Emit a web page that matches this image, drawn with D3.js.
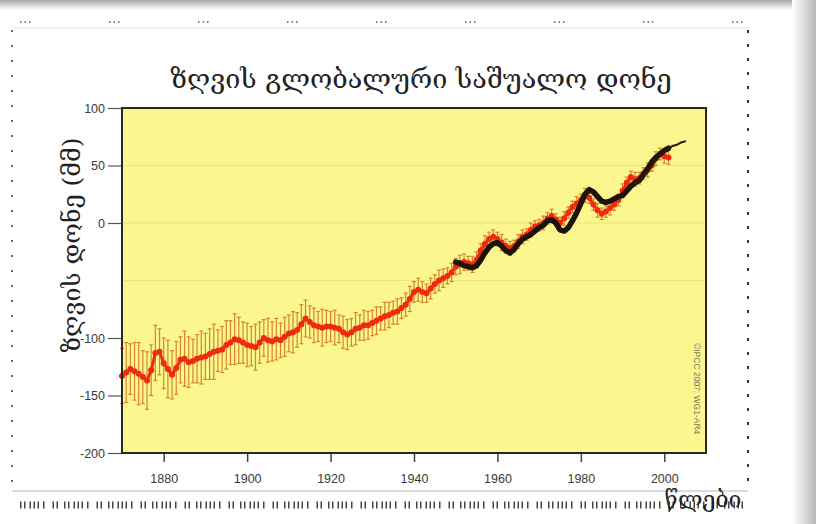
<!DOCTYPE html>
<html>
<head>
<meta charset="utf-8">
<script src="https://cdn.jsdelivr.net/npm/d3@7"></script>
<style>
  html, body { margin: 0; padding: 0; background: #fff; }
  #chart-container { width: 816px; height: 524px; }
</style>
</head>
<body>
<div id="chart-container"></div>
<script>
// Global mean sea level, mm
const years = d3.range(1870, 2002);
const seaLevel = [
  -133, -130, -127, -129, -131, -134, -137, -128, -113, -112,
  -122, -127, -132, -126, -119, -118, -121, -120, -118, -117,
  -116, -114, -112, -111, -110, -106, -104, -101, -102, -104,
  -106, -107, -108, -104, -100, -102, -103, -101, -102, -99,
  -96, -95, -93, -88, -83, -86, -89, -90, -91, -90,
  -90, -91, -92, -95, -97, -95, -92, -91, -89, -89,
  -87, -85, -83, -81, -80, -78, -77, -74, -71, -66,
  -60, -58, -60, -61, -57, -53, -50, -48, -46, -43,
  -38, -36, -34, -35, -36, -32, -24, -18, -14, -12,
  -14, -17, -20, -22, -20, -16, -12, -10, -6, -3,
  -2, 0, 4, 6, 3, 0, 4, 9, 14, 17,
  20, 24, 22, 16, 11, 8, 10, 13, 16, 20,
  28, 35, 40, 38, 39, 43, 46, 50, 56, 60,
  58, 57
];
const seaLevelError = [
  24, 26, 22, 25, 27, 23, 25, 22, 24, 20,
  22, 25, 21, 23, 20, 24, 22, 19, 21, 23,
  20, 22, 24, 18, 20, 21, 19, 22, 20, 18,
  19, 17, 20, 18, 16, 19, 17, 18, 15, 17,
  16, 18, 15, 17, 16, 14, 15, 13, 16, 14,
  13, 15, 12, 14, 13, 12, 14, 11, 13, 12,
  11, 12, 10, 12, 11, 10, 11, 9, 10, 11,
  9, 10, 9, 8, 9, 8, 9, 8, 7, 8,
  7, 8, 7, 6, 7, 7, 6, 7, 6, 6,
  6, 7, 6, 6, 5, 6, 6, 5, 6, 5,
  5, 6, 5, 6, 5, 5, 6, 5, 5, 6,
  5, 6, 5, 5, 6, 5, 5, 6, 5, 5,
  6, 5, 5, 6, 5, 5, 6, 5, 6, 5,
  6, 6
];

// Tide gauge record since 1950
const gaugeYears = d3.range(1950, 2002);
const gaugeLevel = [
  -34, -35, -37, -38, -39, -37, -32, -26, -21, -18,
  -17, -20, -24, -26, -23, -18, -14, -12, -10, -7,
  -4, -2, 2, 3, 0, -6, -7, -4, 2, 9,
  17, 25, 29, 27, 23, 19, 18, 19, 21, 23,
  24, 28, 32, 35, 37, 42, 47, 53, 57, 60,
  63, 65
];

// Satellite altimetry
const satYears = d3.range(1993, 2006);
const satLevel = [34, 37, 41, 45, 50, 55, 59, 62, 65, 67, 68, 70, 71];

const xTicks = [1880, 1900, 1920, 1940, 1960, 1980, 2000];
const yTicks = [100, 50, 0, -100, -150, -200];
const gridLines = [50, 0, -50];

const titleText = "ზღვის გლობალური საშუალო დონე";
const yLabelText = "ზღვის დონე (მმ)";
const xLabelText = "წლები";
const creditText = "©IPCC 2007: WG1-AR4";

function renderChart() {
    const container = document.getElementById("chart-container");
    const width = 816, height = 524;
    const plot = {left: 122, right: 706, top: 108, bottom: 453};
    const georgianFont = "'DejaVu Serif', 'DejaVu Sans', serif";
    const numFont = "'Liberation Sans', Arial, sans-serif";

    const x = d3.scaleLinear([1870, 2010], [plot.left, plot.right]);
    const y = d3.scaleLinear([-200, 100], [plot.bottom, plot.top]);

    const svg = d3.create("svg")
        .attr("width", width)
        .attr("height", height)
        .attr("viewBox", [0, 0, width, height]);

    // Page shadow gradients
    const defs = svg.append("defs");
    const topGrad = defs.append("linearGradient").attr("id", "topShade")
        .attr("x1", 0).attr("y1", 0).attr("x2", 0).attr("y2", 1);
    topGrad.append("stop").attr("offset", "0%").attr("stop-color", "#a8a8a8");
    topGrad.append("stop").attr("offset", "100%").attr("stop-color", "#ffffff");
    const rightGrad = defs.append("linearGradient").attr("id", "rightShade")
        .attr("x1", 0).attr("y1", 0).attr("x2", 1).attr("y2", 0);
    rightGrad.append("stop").attr("offset", "0%").attr("stop-color", "#ffffff");
    rightGrad.append("stop").attr("offset", "100%").attr("stop-color", "#b8b8b8");

    svg.append("rect").attr("width", width).attr("height", height).attr("fill", "#fff");
    svg.append("rect").attr("width", width).attr("height", 10).attr("fill", "url(#topShade)");
    svg.append("rect").attr("x", 792).attr("width", 24).attr("height", height).attr("fill", "url(#rightShade)");

    // Dotted frame of the scan
    const frame = svg.append("g").attr("fill", "none");
    frame.append("line").attr("x1", 20).attr("x2", 745).attr("y1", 22).attr("y2", 22)
        .attr("stroke", "#555").attr("stroke-width", 1.6)
        .attr("stroke-dasharray", "1.5 3 1.5 3 1.5 78.5");
    frame.append("line").attr("x1", 14).attr("x2", 748).attr("y1", 28).attr("y2", 28)
        .attr("stroke", "#e2e2e2").attr("stroke-width", 1);
    frame.append("line").attr("x1", 12).attr("x2", 12).attr("y1", 30).attr("y2", 490)
        .attr("stroke", "#444").attr("stroke-width", 1.6).attr("stroke-dasharray", "2 13");
    frame.append("line").attr("x1", 748).attr("x2", 748).attr("y1", 30).attr("y2", 490)
        .attr("stroke", "#333").attr("stroke-width", 2).attr("stroke-dasharray", "3 11");
    frame.append("line").attr("x1", 12).attr("x2", 748).attr("y1", 491).attr("y2", 491)
        .attr("stroke", "#cfcfcf").attr("stroke-width", 1.5);
    frame.append("line").attr("x1", 20).attr("x2", 745).attr("y1", 505).attr("y2", 505)
        .attr("stroke", "#444").attr("stroke-width", 7)
        .attr("stroke-dasharray", "1.5 2.5 1.5 4 1.5 2.5 1.5 2.5 1.5 4 1.5 8 1.5 2.5 1.5 6");

    // Plot background
    svg.append("rect")
        .attr("x", plot.left).attr("y", plot.top)
        .attr("width", plot.right - plot.left).attr("height", plot.bottom - plot.top)
        .attr("fill", "#fbf68e");

    // Faint grid lines
    svg.append("g")
        .selectAll("line")
        .data(gridLines)
        .join("line")
        .attr("x1", plot.left).attr("x2", plot.right)
        .attr("y1", d => y(d)).attr("y2", d => y(d))
        .attr("stroke", "#ebe37e").attr("stroke-width", 1.2);

    // Title
    svg.append("text")
        .attr("x", 421).attr("y", 88)
        .attr("text-anchor", "middle")
        .attr("font-family", georgianFont)
        .attr("font-size", 27)
        .attr("fill", "#222")
        .text(titleText);

    // Y axis
    const yAxis = svg.append("g")
        .attr("transform", `translate(${plot.left},0)`)
        .call(d3.axisLeft(y).tickValues(yTicks).tickSize(14).tickPadding(3).tickFormat(d => String(d)));
    yAxis.select(".domain").remove();
    yAxis.selectAll(".tick line").attr("stroke", "#555").attr("stroke-width", 1.2);
    yAxis.selectAll(".tick text")
        .attr("font-family", numFont).attr("font-size", 12.5)
        .attr("fill", "#3a3a3a");

    // X axis
    const xAxis = svg.append("g")
        .attr("transform", `translate(0,${plot.bottom})`)
        .call(d3.axisBottom(x).tickValues(xTicks).tickSize(9).tickPadding(12).tickFormat(d => String(d)));
    xAxis.select(".domain").remove();
    xAxis.selectAll(".tick line").attr("stroke", "#444").attr("stroke-width", 1.5);
    xAxis.selectAll(".tick text")
        .attr("font-family", numFont).attr("font-size", 12.5)
        .attr("fill", "#3a3a3a");

    // Error bars of the reconstruction
    const bars = svg.append("g")
        .attr("stroke", "#d9842c")
        .attr("stroke-width", 1.2)
        .attr("fill", "none")
        .selectAll("g")
        .data(years.map((yr, i) => ({yr, v: seaLevel[i], e: seaLevelError[i]})))
        .join("g");
    bars.append("line")
        .attr("x1", d => x(d.yr)).attr("x2", d => x(d.yr))
        .attr("y1", d => y(d.v - d.e)).attr("y2", d => y(d.v + d.e));
    bars.append("line")
        .attr("x1", d => x(d.yr) - 2).attr("x2", d => x(d.yr) + 2)
        .attr("y1", d => y(d.v + d.e)).attr("y2", d => y(d.v + d.e));
    bars.append("line")
        .attr("x1", d => x(d.yr) - 2).attr("x2", d => x(d.yr) + 2)
        .attr("y1", d => y(d.v - d.e)).attr("y2", d => y(d.v - d.e));

    // Reconstruction line and points
    const redLine = d3.line().x((d, i) => x(years[i])).y(d => y(d));
    svg.append("path")
        .datum(seaLevel)
        .attr("fill", "none")
        .attr("stroke", "#ec2a12")
        .attr("stroke-width", 3)
        .attr("d", redLine);
    svg.append("g")
        .selectAll("circle")
        .data(seaLevel)
        .join("circle")
        .attr("cx", (d, i) => x(years[i]))
        .attr("cy", d => y(d))
        .attr("r", 3)
        .attr("fill", "#ee2b10");

    // Tide gauge line
    svg.append("path")
        .datum(gaugeLevel)
        .attr("fill", "none")
        .attr("stroke", "#1c130c")
        .attr("stroke-width", 5.5)
        .attr("stroke-linejoin", "round")
        .attr("stroke-linecap", "round")
        .attr("d", d3.line().x((d, i) => x(gaugeYears[i])).y(d => y(d)));

    // Satellite line
    svg.append("path")
        .datum(satLevel)
        .attr("fill", "none")
        .attr("stroke", "#2a1a10")
        .attr("stroke-width", 2)
        .attr("stroke-linecap", "round")
        .attr("d", d3.line().x((d, i) => x(satYears[i])).y(d => y(d)));

    // Plot frame
    svg.append("rect")
        .attr("x", plot.left).attr("y", plot.top)
        .attr("width", plot.right - plot.left).attr("height", plot.bottom - plot.top)
        .attr("fill", "none")
        .attr("stroke", "#2a2a1a")
        .attr("stroke-width", 2);

    // Credit
    svg.append("text")
        .attr("transform", `translate(694,343) rotate(90)`)
        .attr("font-family", numFont)
        .attr("font-size", 8.5)
        .attr("fill", "#7a7a60")
        .text(creditText);

    // Axis titles
    svg.append("text")
        .attr("transform", `translate(80,245) rotate(-90)`)
        .attr("text-anchor", "middle")
        .attr("font-family", georgianFont)
        .attr("font-size", 25)
        .attr("fill", "#222")
        .text(yLabelText);
    svg.append("text")
        .attr("x", 703).attr("y", 507)
        .attr("text-anchor", "middle")
        .attr("font-family", georgianFont)
        .attr("font-size", 23)
        .attr("fill", "#222")
        .text(xLabelText);

    container.appendChild(svg.node());
}

renderChart();
</script>
</body>
</html>
